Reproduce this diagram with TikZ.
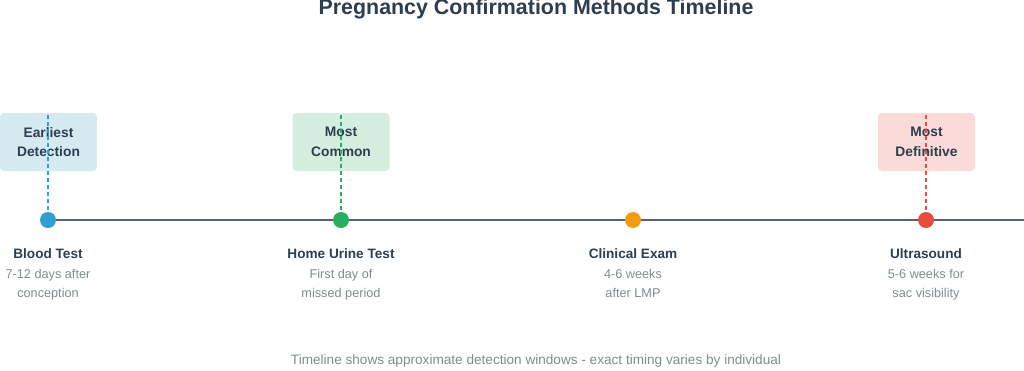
\documentclass[tikz,border=0pt]{standalone}
\usepackage{fontspec}
\setmainfont{Liberation Sans}
\definecolor{ink}{HTML}{2C3E50}
\definecolor{sub}{HTML}{7F8C8D}
\definecolor{axis}{HTML}{5A6078}
\definecolor{cblue}{HTML}{2E9FD0}
\definecolor{cgreen}{HTML}{27AE60}
\definecolor{corange}{HTML}{F39C12}
\definecolor{cred}{HTML}{E74C3C}
\definecolor{fblue}{HTML}{D6EAF2}
\definecolor{fgreen}{HTML}{D4EFDF}
\definecolor{fred}{HTML}{FADBD8}
\tikzset{
  tag/.style={rounded corners=4pt, minimum width=97pt, minimum height=58pt, align=center, font=\bfseries\fontsize{13.8}{19.5}\selectfont, text=ink, inner sep=0pt},
  dot/.style={circle, minimum size=16pt, inner sep=0pt},
  mname/.style={font=\bfseries\fontsize{13.6}{16}\selectfont, text=ink, anchor=center},
  desc/.style={font=\fontsize{12.7}{19}\selectfont, text=sub, align=center, anchor=north},
  guide/.style={line width=1.5pt, dash pattern=on 4pt off 3pt},
}
\begin{document}
\begin{tikzpicture}[x=1pt,y=-1pt]
\useasboundingbox (0,0) rectangle (1024,370);
\node[font=\bfseries\fontsize{21.4}{24}\selectfont, text=ink] (title) at (536,9.5) {Pregnancy Confirmation Methods Timeline};
% boxes
\node[tag, fill=fblue] (b1) at (48.5,142) {Earliest\\Detection};
\node[tag, fill=fgreen] (b2) at (341,142) {Most\\Common};
\node[tag, fill=fred] (b3) at (926.5,142) {Most\\Definitive};
% axis and dots
\coordinate (end) at (1024,220);
\coordinate (p1) at (48,220);
\draw[axis, line width=2.6pt] (p1) -- (end);
\node[dot, fill=cblue] (d1) at (48,220) {};
\node[dot, fill=cgreen] (d2) at (341,220) {};
\node[dot, fill=corange] (d3) at (633,220) {};
\node[dot, fill=cred] (d4) at (926,220) {};
% dashed guides
\coordinate (t1) at (48,115);
\coordinate (t2) at (341,115);
\coordinate (t4) at (926,115);
\draw[guide, cblue] (t1) -- (d1.north);
\draw[guide, cgreen] (t2) -- (d2.north);
\draw[guide, cred] (t4) -- (d4.north);
% labels
\node[mname] (n1) at (48,254) {Blood Test};
\node[mname] (n2) at (341,254) {Home Urine Test};
\node[mname] (n3) at (633,254) {Clinical Exam};
\node[mname] (n4) at (926,254) {Ultrasound};
\node[desc] (s1) at (48,265.5) {7-12 days after\\conception};
\node[desc] (s2) at (341,265.5) {First day of\\missed period};
\node[desc] (s3) at (633,265.5) {4-6 weeks\\after LMP};
\node[desc] (s4) at (926,265.5) {5-6 weeks for\\sac visibility};
\node[font=\fontsize{13.6}{16}\selectfont, text=sub] (foot) at (536,361) {Timeline shows approximate detection windows - exact timing varies by individual};
\end{tikzpicture}
\end{document}
